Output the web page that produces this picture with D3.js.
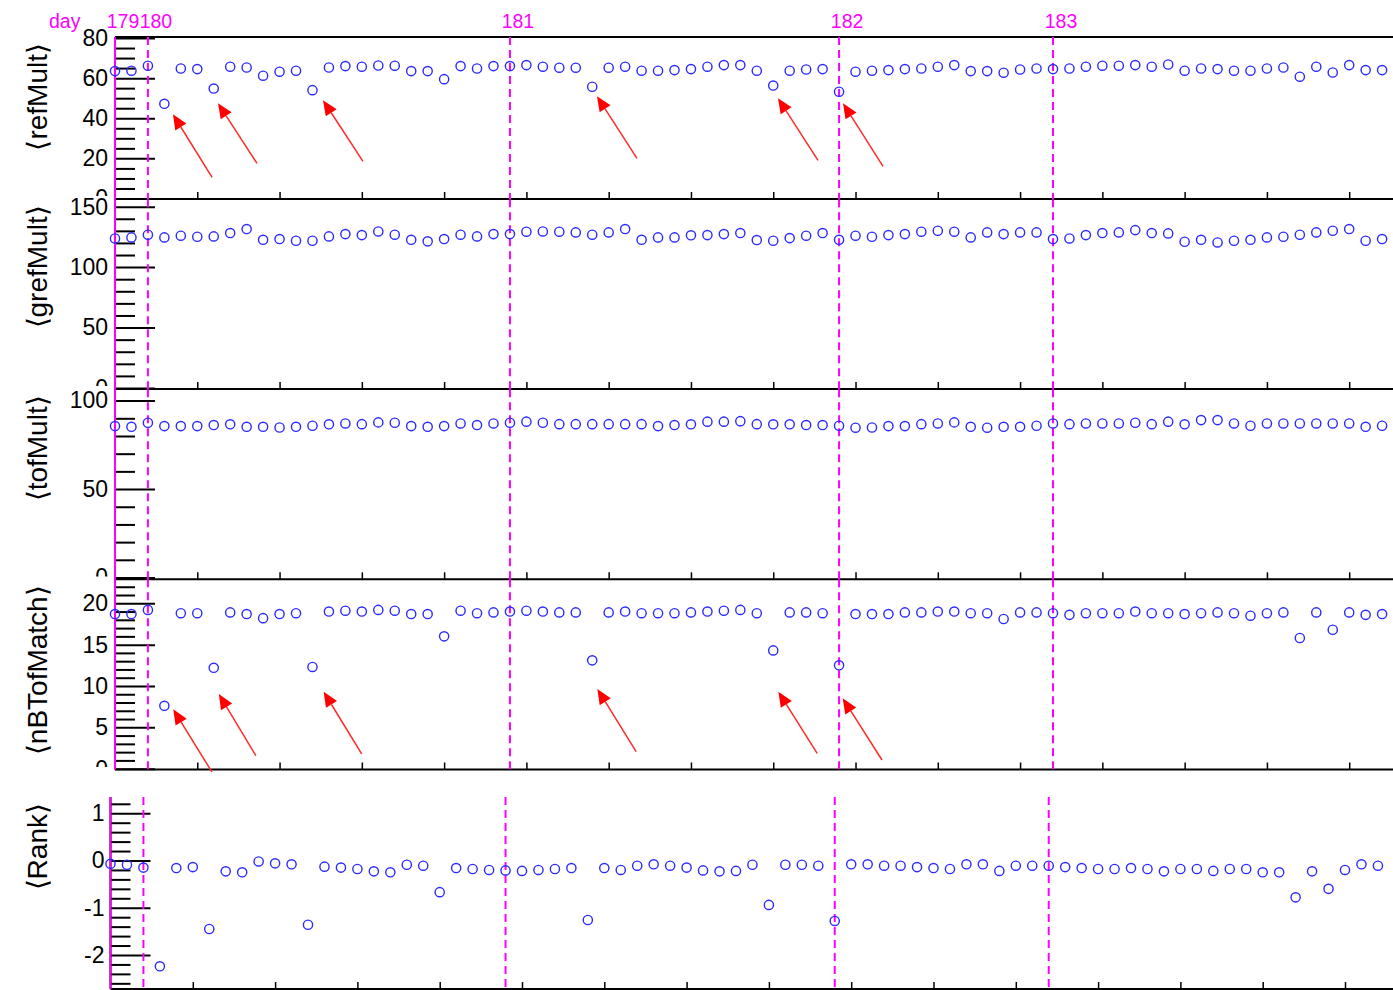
<!DOCTYPE html>
<html><head><meta charset="utf-8">
<script src="https://cdn.jsdelivr.net/npm/d3@7"></script>
<style>body{margin:0;background:#fff}svg{display:block}</style>
</head><body><svg id="c" width="1393" height="990"></svg>
<script>
// ---------- data ----------
const refMult = [63.5,63.7,66.2,47.2,64.8,64.5,54.8,65.7,65.3,61.2,63.2,63.7,54.0,65.3,66.0,65.7,66.3,66.2,63.5,63.5,
59.5,66.0,64.8,66.0,66.0,66.5,65.7,65.2,65.2,55.7,65.2,65.7,63.7,63.7,64.0,64.5,65.7,66.5,66.5,63.7,
56.3,63.7,64.3,64.5,53.2,63.2,63.7,64.0,64.5,64.8,65.7,66.5,63.5,63.5,62.7,64.3,64.8,64.5,64.8,65.7,
66.2,66.2,66.5,65.7,66.8,63.7,64.8,64.5,63.7,63.7,64.8,65.3,60.7,65.7,62.8,66.5,64.0,64.0];
const grefMult = [123.7,124.6,126.8,124.6,126.0,125.1,125.4,128.2,131.5,122.6,123.2,121.8,121.8,125.4,127.3,126.5,129.5,126.8,122.6,121.3,
123.2,126.8,125.4,127.3,127.3,129.3,129.5,129.3,128.7,126.8,128.7,131.5,122.6,124.6,124.6,126.3,126.5,127.3,128.2,122.4,
121.8,124.0,126.0,128.2,122.6,126.0,125.1,126.5,127.3,129.3,130.1,129.3,124.6,128.7,127.3,128.7,128.7,123.2,123.7,126.5,
128.2,128.7,130.6,128.2,127.9,121.0,122.6,120.4,121.8,122.6,124.6,125.1,126.8,128.7,130.1,131.5,121.8,123.2];
const tofMult = [85.6,85.2,87.5,85.6,85.6,85.6,86.2,86.6,85.2,85.2,84.8,85.2,85.8,86.6,87.1,86.7,87.7,87.5,85.6,85.2,
85.6,87.1,86.2,87.1,87.5,88.1,87.5,86.7,86.7,86.7,86.7,86.7,86.7,85.6,86.2,86.6,88.1,88.1,88.4,86.7,
86.6,86.6,86.2,86.2,85.8,84.7,84.8,85.6,85.6,86.7,87.1,87.7,85.2,84.7,85.2,85.2,85.8,87.1,86.7,87.1,
87.1,87.1,87.5,86.7,88.1,86.6,89.0,89.0,87.1,85.8,87.1,87.1,87.1,87.1,87.1,87.1,85.2,85.8];
const nBTofMatch = [18.7,18.7,19.2,7.6,18.8,18.8,12.2,18.9,18.7,18.2,18.7,18.8,12.3,19.0,19.1,19.0,19.2,19.1,18.7,18.7,
16.0,19.1,18.8,18.9,19.0,19.1,19.0,18.9,18.9,13.1,18.9,19.0,18.8,18.8,18.8,18.9,19.0,19.1,19.2,18.8,
14.3,18.9,18.9,18.8,12.5,18.7,18.7,18.7,18.9,18.9,19.0,19.0,18.8,18.8,18.1,18.9,18.9,18.8,18.6,18.8,
18.8,18.8,19.0,18.8,18.8,18.7,18.8,18.9,18.8,18.5,18.8,18.9,15.8,18.9,16.8,18.9,18.6,18.7];
const rank = [-0.07,-0.09,-0.15,-2.24,-0.16,-0.14,-1.45,-0.23,-0.25,-0.02,-0.06,-0.08,-1.36,-0.13,-0.15,-0.18,-0.23,-0.25,-0.09,-0.11,
-0.67,-0.16,-0.18,-0.20,-0.21,-0.22,-0.20,-0.18,-0.16,-1.26,-0.16,-0.20,-0.11,-0.08,-0.11,-0.15,-0.21,-0.23,-0.22,-0.09,
-0.94,-0.09,-0.09,-0.11,-1.28,-0.08,-0.08,-0.11,-0.11,-0.14,-0.16,-0.18,-0.08,-0.08,-0.22,-0.11,-0.11,-0.11,-0.14,-0.16,
-0.18,-0.18,-0.16,-0.18,-0.23,-0.18,-0.18,-0.22,-0.18,-0.18,-0.25,-0.25,-0.78,-0.23,-0.60,-0.20,-0.08,-0.11];

const days = [179,180,181,182,183];
const dayRunIndex = [0,2,24,44,57];
const panelTitles = ["\u27E8refMult\u27E9","\u27E8grefMult\u27E9","\u27E8tofMult\u27E9","\u27E8nBTofMatch\u27E9","\u27E8Rank\u27E9"];
const majorTicks = [[0,20,40,60,80],[0,50,100,150],[0,50,100],[0,5,10,15,20],[-2,-1,0,1]];
const minorStep = [5,10,10,1,0.2];
const xTickRuns = [5,10,15,20,25,30,35,40,45,50,55,60,65,70,75];
// arrows: [headRun, headValue, tailRun, tailValue]
const arrowsRefMult = [[3.52,42,5.9,10.5],[6.26,47.5,8.63,17.5],[12.64,49,15.07,18.5],[29.29,51,31.72,20],[40.29,50,42.72,19],[44.24,47.5,46.67,16]];
const arrowsNBTof = [[3.54,7.18,5.89,-0.4],[6.31,9.03,8.56,1.57],[12.68,9.31,14.99,1.78],[29.31,9.64,31.67,2.06],[40.31,9.31,42.67,1.86],[44.22,8.51,46.61,1.05]];

const series = [refMult, grefMult, tofMult, nBTofMatch, rank];
const arrowSets = [arrowsRefMult, null, null, arrowsNBTof, null];

// ---------- layout ----------
const W = 1393;
const layout = [
  {x0:115,   step:16.456, top:37,    bottom:199,   dom:[-0.25,80.5],  clip:[0,196],     topLine:true},
  {x0:115,   step:16.456, top:199.3, bottom:389,   dom:[-0.83,156.1], clip:[196,386]},
  {x0:115,   step:16.456, top:389.3, bottom:579.3, dom:[-1.02,106.4], clip:[386,576.5]},
  {x0:115,   step:16.456, top:579.3, bottom:769.5, dom:[-0.1,22.9],   clip:[576.5,767]},
  {x0:110.5, step:16.46,  top:797,   bottom:989,   dom:[-2.72,1.344], clip:[767,990]}
];
const FONT = "'Liberation Sans', Arial, Helvetica, sans-serif";
const MAG = "#ff00ff";

const svg = d3.select("#c");
svg.append("rect").attr("width",W).attr("height",990).attr("fill","#fff");
const defs = svg.append("defs");

layout.forEach((L, k) => {
  const x = d3.scaleLinear().domain([0,80]).range([L.x0, L.x0 + 80*L.step]);
  const y = d3.scaleLinear().domain(L.dom).range([L.bottom, L.top]);
  const g = svg.append("g");

  defs.append("clipPath").attr("id","clip"+k).append("rect")
    .attr("x",0).attr("y",L.clip[0]).attr("width",W).attr("height",L.clip[1]-L.clip[0]);

  // y minor ticks
  const minors = d3.range(Math.ceil(L.dom[0]/minorStep[k]-1e-9), Math.floor(L.dom[1]/minorStep[k]+1e-9)+1)
    .map(i => +(i*minorStep[k]).toFixed(6))
    .filter(v => !majorTicks[k].some(m => Math.abs(m-v) < 1e-6));
  const minorAxis = d3.axisLeft(y).tickValues(minors).tickSizeInner(-20).tickSizeOuter(0).tickFormat("");
  const gm = g.append("g").attr("transform",`translate(${L.x0},0)`).call(minorAxis);
  gm.select(".domain").remove();
  gm.selectAll("line").attr("stroke","#000").attr("stroke-width",2);

  // y major ticks + labels
  const majorAxis = d3.axisLeft(y).tickValues(majorTicks[k]).tickSizeInner(-40).tickSizeOuter(0)
    .tickPadding(k===4?6:7).tickFormat(d => String(d));
  const ga = g.append("g").attr("transform",`translate(${L.x0},0)`).call(majorAxis);
  ga.select(".domain").remove();
  ga.selectAll("line").attr("stroke","#000").attr("stroke-width",2);
  // labels, clipped to the pad
  const labelsG = g.append("g").attr("clip-path",`url(#clip${k})`);
  ga.selectAll(".tick").each(function(){
    const t = d3.select(this).select("text");
    const tr = d3.select(this).attr("transform");
    labelsG.append("g").attr("transform",`translate(${L.x0},0) ${tr}`)
      .append("text").attr("x",t.attr("x")).attr("dy",t.attr("dy"))
      .attr("text-anchor","end").attr("font-family",FONT).attr("font-size",23).attr("fill","#000")
      .text(t.text());
    t.remove();
  });

  // bottom frame with upward ticks
  const xa = d3.axisBottom(x).tickValues(xTickRuns).tickSizeInner(-7).tickSizeOuter(0).tickFormat("");
  const gx = g.append("g").attr("transform",`translate(0,${L.bottom})`).call(xa);
  gx.select(".domain").remove();
  gx.selectAll("line").attr("stroke","#000").attr("stroke-width",1.5);
  g.append("line").attr("x1",L.x0).attr("x2",W+5).attr("y1",L.bottom).attr("y2",L.bottom)
    .attr("stroke","#000").attr("stroke-width",2);
  if (L.topLine) {
    g.append("line").attr("x1",L.x0).attr("x2",W+5).attr("y1",L.top).attr("y2",L.top)
      .attr("stroke","#000").attr("stroke-width",2);
  }
  // left axis line
  g.append("line").attr("x1",L.x0).attr("x2",L.x0).attr("y1",L.top).attr("y2",L.bottom)
    .attr("stroke","#000").attr("stroke-width",2);

  // day lines
  dayRunIndex.forEach((r) => {
    g.append("line").attr("x1",x(r)).attr("x2",x(r)).attr("y1",L.top).attr("y2",L.bottom)
      .attr("stroke",MAG).attr("stroke-width",2)
      .attr("stroke-dasharray", r === 0 ? null : "8,5");
  });

  // y title
  g.append("text").attr("transform",`translate(47,${L.top+6}) rotate(-90)`)
    .attr("text-anchor","end").attr("font-family",FONT).attr("font-size",28).attr("fill","#000")
    .text(panelTitles[k]);

  // markers
  g.append("g").selectAll("circle").data(series[k]).join("circle")
    .attr("cx",(d,i)=>x(i)).attr("cy",d=>y(d)).attr("r",4.6)
    .attr("fill","none").attr("stroke","#2a2aff").attr("stroke-width",1.4);

  // arrows
  if (arrowSets[k]) {
    const ag = g.append("g");
    arrowSets[k].forEach(a => {
      const hx = x(a[0]), hy = y(a[1]), tx = x(a[2]), ty = y(a[3]);
      const dx = hx-tx, dy = hy-ty, len = Math.hypot(dx,dy);
      const ux = dx/len, uy = dy/len, nx = -uy, ny = ux;
      const HL = 15, HW = 6.5;
      const bx = hx-HL*ux, by = hy-HL*uy;
      ag.append("line").attr("x1",tx).attr("y1",ty).attr("x2",bx).attr("y2",by)
        .attr("stroke","#ff2a2a").attr("stroke-width",1.5);
      ag.append("path").attr("d",`M${hx},${hy}L${bx+HW*nx},${by+HW*ny}L${bx-HW*nx},${by-HW*ny}Z`)
        .attr("fill","#ff0000");
    });
  }

  // day labels on top panel
  if (k === 0) {
    g.append("text").attr("x",49).attr("y",28).attr("font-family",FONT).attr("font-size",19.5)
      .attr("fill",MAG).text("day");
    g.append("g").selectAll("text").data(days).join("text")
      .attr("x",(d,i)=>x(dayRunIndex[i])+8).attr("y",28).attr("text-anchor","middle")
      .attr("font-family",FONT).attr("font-size",19.5).attr("fill",MAG).text(d=>d);
  }
});
</script></body></html>
